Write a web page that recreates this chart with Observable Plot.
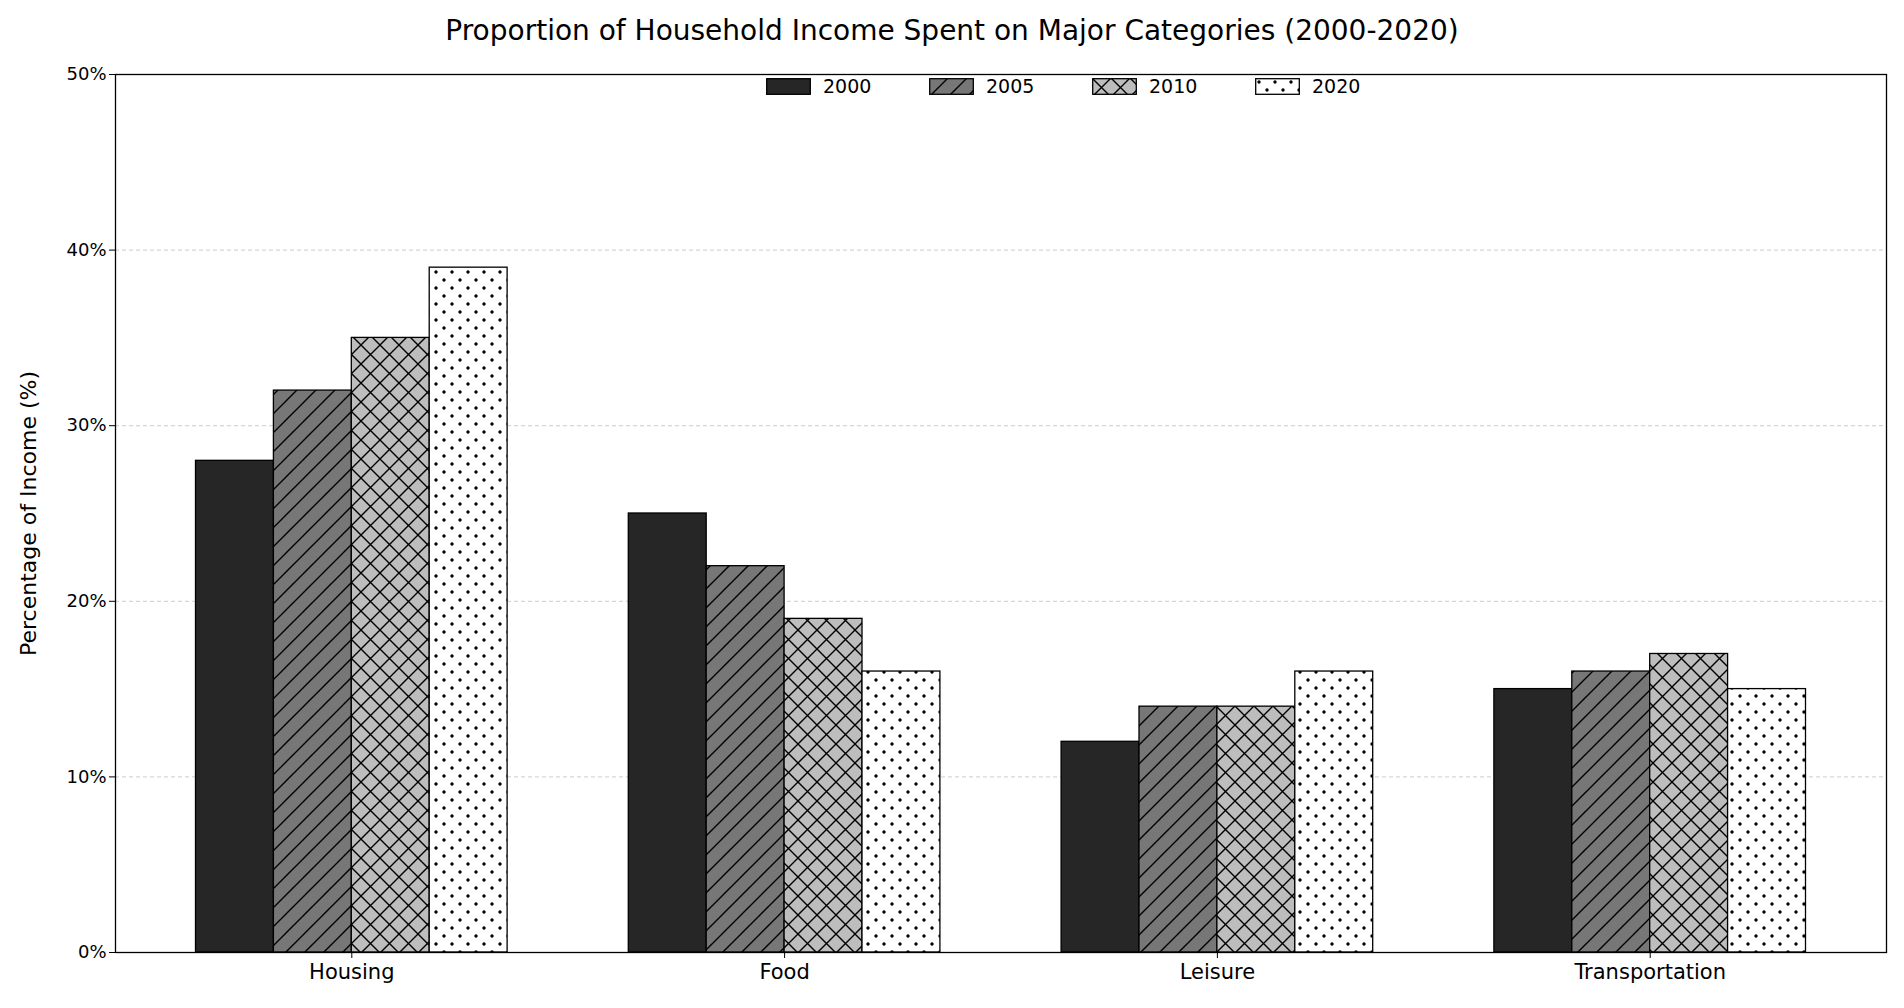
<!DOCTYPE html>
<html><head><meta charset="utf-8">
<script src="https://cdn.jsdelivr.net/npm/d3@7"></script>
<script src="https://cdn.jsdelivr.net/npm/@observablehq/plot@0.6"></script>
<style>
body{margin:0;background:#fff;font-family:"DejaVu Sans",sans-serif;}
#wrap{position:relative;width:1904px;}
#title{height:60px;line-height:62px;text-align:center;font-size:28px;color:#000;}
#legend{position:absolute;top:75px;left:140px;width:1904px;display:flex;justify-content:center;font-size:19px;}
#legend .it{display:flex;align-items:center;width:163px;}
#legend svg{margin-right:12px;}
</style></head><body>
<svg width="0" height="0" style="position:absolute">
<defs>
<pattern id="p2000" patternUnits="userSpaceOnUse" width="10" height="10"><rect width="10" height="10" fill="#262626"/></pattern>
<pattern id="p2005" patternUnits="userSpaceOnUse" width="19" height="19"><rect width="19" height="19" fill="#777777"/><path d="M-5,24 L24,-5 M-5,5 L5,-5 M14,24 L24,14" stroke="#000" stroke-width="1.4"/></pattern>
<pattern id="p2010" patternUnits="userSpaceOnUse" width="19" height="19"><rect width="19" height="19" fill="#bdbdbd"/><path d="M-5,24 L24,-5 M-5,5 L5,-5 M14,24 L24,14 M-5,-5 L24,24 M14,-5 L24,5 M-5,14 L5,24" stroke="#000" stroke-width="1.4"/></pattern>
<pattern id="p2020" patternUnits="userSpaceOnUse" width="16" height="16"><rect width="16" height="16" fill="#fff"/><circle cx="4" cy="4" r="1.7" fill="#000"/><circle cx="12" cy="12" r="1.7" fill="#000"/></pattern>
</defs></svg>
<div id="wrap"><div id="title">Proportion of Household Income Spent on Major Categories (2000-2020)</div>
<div id="chart"></div><div id="legend"></div></div>
<script>
const categories = ["Housing","Food","Leisure","Transportation"];
const years = ["2000","2005","2010","2020"];
const v2000 = [28,25,12,15];
const v2005 = [32,22,14,16];
const v2010 = [35,19,14,17];
const v2020 = [39,16,16,15];
const yTicks = [0,10,20,30,40,50];
const fills = years.map(y=>`url(#p${y})`);
const series = [v2000,v2005,v2010,v2020];
const barW = 0.18;
const data = [];
categories.forEach((c,i)=>years.forEach((y,j)=>data.push({ci:i,yi:j,category:c,year:y,value:series[j][i]})));
const plot = Plot.plot({
  width:1904,height:948,marginTop:14,marginBottom:56,marginLeft:115,marginRight:18,
  style:{fontFamily:"DejaVu Sans",fontSize:"18px",color:"#000"},
  x:{domain:[-0.546,3.546],ticks:[0,1,2,3],tickFormat:i=>categories[i],label:null,tickSize:6,tickPadding:6},
  y:{domain:[0,50],ticks:yTicks,tickFormat:d=>d+"%",label:"Percentage of Income (%)",labelAnchor:"center",labelArrow:"none",labelOffset:95,tickSize:6},
  color:{domain:years,range:fills},
  marks:[
    Plot.gridY(yTicks.filter(t=>t>0&&t<50),{stroke:"#ccc",strokeOpacity:1,strokeDasharray:"4,3"}),
    Plot.rectY(data,{x1:d=>d.ci+(d.yi-2)*barW,x2:d=>d.ci+(d.yi-1)*barW,y:"value",fill:"year",stroke:"#000",strokeWidth:1.3,insetLeft:0,insetRight:0}),
    Plot.frame({stroke:"#000",strokeWidth:1.3})
  ]
});
document.getElementById("chart").append(plot);
plot.querySelectorAll("[aria-label='x-axis tick label'] text").forEach(t=>t.style.fontSize="21px");
plot.querySelectorAll("[aria-label='y-axis label'] text").forEach(t=>t.style.fontSize="22px");
const lg=document.getElementById("legend");
years.forEach((y,i)=>{const d=document.createElement("div");d.className="it";
d.innerHTML=`<svg width="45" height="17"><rect x="0.7" y="0.7" width="43.6" height="15.6" fill="${fills[i]}" stroke="#000" stroke-width="1.3"/></svg>${y}`;lg.append(d);});
</script></body></html>
